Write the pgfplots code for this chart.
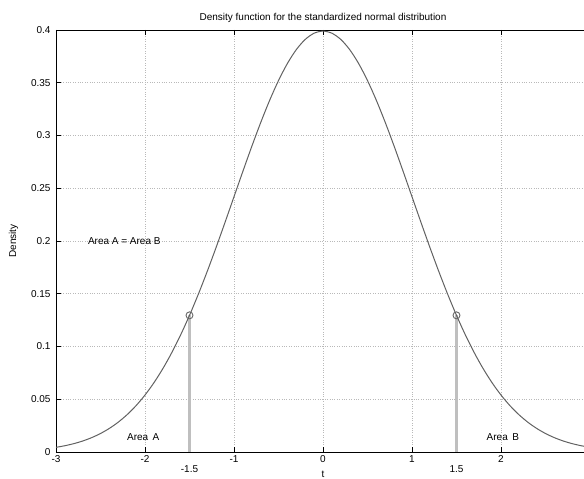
\documentclass[border=0pt]{standalone}
\usepackage{pgfplots}
\pgfplotsset{compat=1.18}
\usepackage{fontspec}
\setmainfont{Liberation Sans}
\begin{document}
\begin{tikzpicture}[x=1pt,y=1pt]
\begin{axis}[
  at={(0,0)}, anchor=south west,
  scale only axis, width=534pt, height=422pt,
  xmin=-3, xmax=3, ymin=0, ymax=0.4,
  xtick={-3,-2,-1,0,1,2},
  xticklabels={-3,-2,-1,0,1,2},
  ytick={0,0.05,0.1,0.15,0.2,0.25,0.3,0.35,0.4},
  yticklabels={0,0.05,0.1,0.15,0.2,0.25,0.3,0.35,0.4},
  tick align=inside, major tick length=5pt,
  grid=major,
  major grid style={dotted, gray!55, line width=0.7pt},
  axis line style={black, line width=0.8pt},
  tick style={black, line width=0.6pt},
  ticklabel style={font=\fontsize{10}{12}\selectfont},
  yticklabel style={xshift=-2pt},
  /pgf/number format/assume math mode=true,
  title={Density function for the standardized normal distribution},
  title style={font=\fontsize{10}{12}\selectfont, yshift=-2pt},
  ylabel={Density}, ylabel style={font=\fontsize{10}{12}\selectfont, yshift=6pt},
  xlabel={t}, xlabel style={font=\fontsize{10}{12}\selectfont, yshift=-2pt},
  clip=false,
]
\addplot[gray!50, line width=2.2pt] coordinates {(-1.5,0) (-1.5,0.129518)};
\addplot[gray!50, line width=2.2pt] coordinates {(1.5,0) (1.5,0.129518)};
\addplot[black!62, line width=1pt, smooth] coordinates {
(-3.0,0.004432) (-2.9,0.005953) (-2.8,0.007915) (-2.7,0.010421) (-2.6,0.013583)
(-2.5,0.017528) (-2.4,0.022395) (-2.3,0.028327) (-2.2,0.035475) (-2.1,0.043984)
(-2.0,0.053991) (-1.9,0.065616) (-1.8,0.078950) (-1.7,0.094049) (-1.6,0.110921)
(-1.5,0.129518) (-1.4,0.149727) (-1.3,0.171369) (-1.2,0.194186) (-1.1,0.217852)
(-1.0,0.241971) (-0.9,0.266085) (-0.8,0.289692) (-0.7,0.312254) (-0.6,0.333225)
(-0.5,0.352065) (-0.4,0.368270) (-0.3,0.381388) (-0.2,0.391043) (-0.1,0.396953)
(0.0,0.398942)
(0.1,0.396953) (0.2,0.391043) (0.3,0.381388) (0.4,0.368270) (0.5,0.352065)
(0.6,0.333225) (0.7,0.312254) (0.8,0.289692) (0.9,0.266085) (1.0,0.241971)
(1.1,0.217852) (1.2,0.194186) (1.3,0.171369) (1.4,0.149727) (1.5,0.129518)
(1.6,0.110921) (1.7,0.094049) (1.8,0.078950) (1.9,0.065616) (2.0,0.053991)
(2.1,0.043984) (2.2,0.035475) (2.3,0.028327) (2.4,0.022395) (2.5,0.017528)
(2.6,0.013583) (2.7,0.010421) (2.8,0.007915) (2.9,0.005953) (3.0,0.004432)};
\addplot[only marks, mark=o, mark size=3.5pt, black!60, line width=0.9pt] coordinates {(-1.5,0.129518) (1.5,0.129518)};
\node[anchor=west, font=\fontsize{10}{12}\selectfont] at (axis cs:-2.68,0.2) {Area A = Area B};
\node[anchor=west, font=\fontsize{10}{12}\selectfont] at (axis cs:-2.24,0.0142) {Area\, A};
\node[anchor=west, font=\fontsize{10}{12}\selectfont] at (axis cs:1.80,0.0142) {Area\, B};
\node[anchor=north, font=\fontsize{10}{12}\selectfont, yshift=-10pt] at (axis cs:-1.5,0) {-1.5};
\node[anchor=north, font=\fontsize{10}{12}\selectfont, yshift=-10pt] at (axis cs:1.5,0) {1.5};
\end{axis}
\pgfresetboundingbox
\path[use as bounding box] (-56pt,-27pt) rectangle (528pt,452pt);
\end{tikzpicture}
\end{document}
